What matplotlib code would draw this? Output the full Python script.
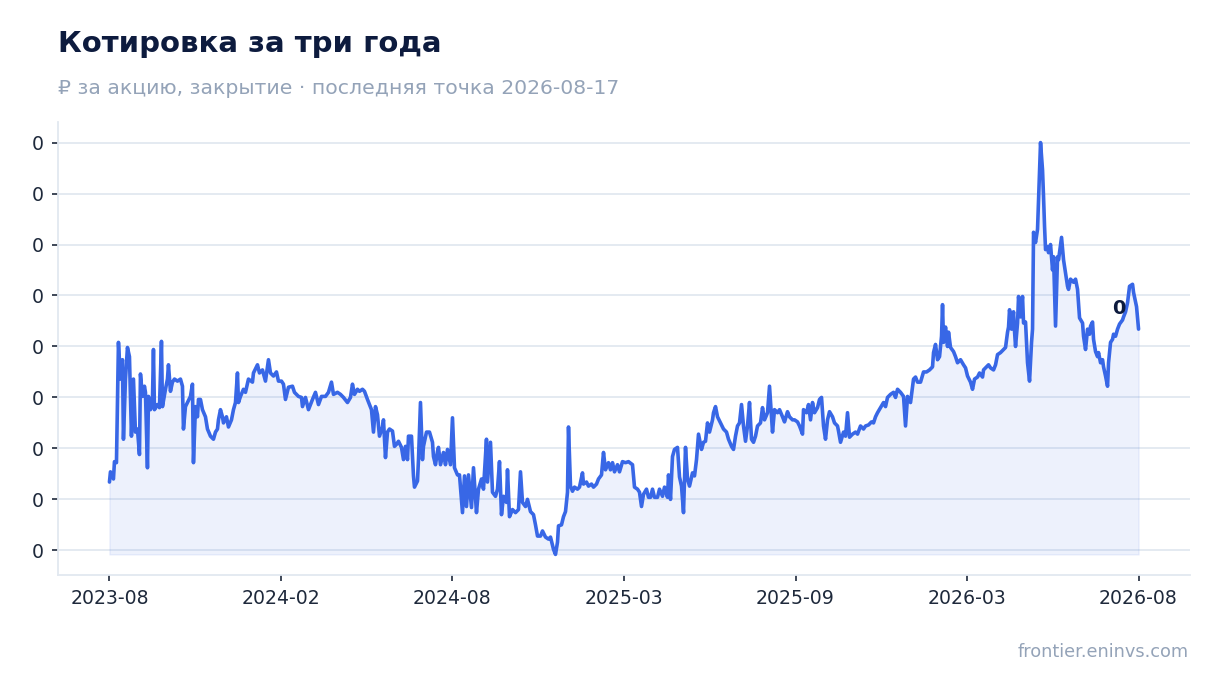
import matplotlib
matplotlib.use("Agg")
import matplotlib.pyplot as plt
import numpy as np
from matplotlib.ticker import FixedLocator, FuncFormatter

# ---- data (trading-session index, close price) ----
session = [0, 1, 4, 5, 7, 9, 11, 13, 14, 16, 18, 20, 22, 24, 26, 28, 30, 31, 33, 35, 36, 38, 39, 41, 43, 44, 45, 48, 50, 52,
           53, 56, 58, 59, 61, 63, 65, 68, 71, 73, 74, 76, 78, 81, 83, 84, 86, 88, 89, 91, 93, 96, 98, 101, 104, 106, 108, 109, 111, 113,
           114, 117, 119, 122, 124, 126, 128, 129, 131, 134, 136, 139, 143, 144, 148, 150, 153, 156, 159, 161, 164, 167, 169, 172, 174, 176, 179, 183, 185, 189,
           192, 193, 196, 199, 203, 206, 209, 212, 216, 219, 222, 224, 228, 231, 234, 238, 241, 243, 245, 248, 250, 253, 255, 258, 260, 262, 264, 266, 268, 270,
           273, 274, 276, 278, 280, 283, 285, 287, 289, 292, 294, 296, 298, 299, 302, 304, 305, 308, 309, 311, 313, 314, 317, 320, 323, 324, 326, 328, 329, 331,
           334, 336, 338, 341, 343, 345, 348, 350, 353, 355, 357, 359, 362, 364, 367, 369, 372, 374, 377, 378, 381, 383, 386, 388, 390, 392, 394, 397, 398, 400,
           403, 406, 409, 411, 413, 416, 418, 421, 424, 426, 428, 431, 433, 436, 439, 441, 444, 446, 448, 449, 452, 454, 456, 458, 459, 461, 463, 465, 468, 470,
           473, 474, 477, 479, 482, 484, 487, 489, 492, 494, 496, 499, 501, 503, 505, 508, 510, 513, 516, 519, 523, 525, 528, 530, 532, 534, 537, 539, 541, 543,
           545, 548, 550, 553, 555, 558, 559, 561, 563, 565, 568, 570, 572, 574, 576, 578, 580, 583, 585, 587, 589, 592, 594, 596, 598, 600, 603, 604, 606, 608,
           611, 614, 617, 619, 622, 624, 626, 628, 630, 632, 634, 636, 638, 640, 642, 644, 646, 648, 651, 653, 655, 658, 660, 663, 665, 668, 670, 673, 675, 678,
           680, 683, 685, 688, 690, 693, 694, 697, 699, 701, 703, 705, 708, 710, 712, 714, 716, 718, 720, 723, 725, 728, 729, 731, 734, 736, 738, 740, 743, 746,
           748, 751, 754, 756, 759, 762, 764, 766, 768, 771, 774, 776, 778, 781, 784, 786, 788, 791, 794, 796, 798, 801, 804, 806, 808, 811, 814, 817, 820, 823, 824, 826,
           828, 830, 832, 833, 834, 836, 838, 839, 841, 844, 846, 848, 851, 854, 856, 858, 861, 863, 865, 868, 870, 873, 874, 877, 879, 881, 884, 886, 888, 891,
           894, 896, 898, 899, 900, 902, 904, 905, 906, 908, 909, 911, 913, 914, 916, 918, 920, 922, 923, 924, 926, 928, 929, 931, 933, 934, 935, 936, 938, 939,
           941, 943, 944, 946, 948, 949, 952, 954, 956, 958, 959, 961, 964, 966, 968, 970, 973, 974, 976, 978, 980, 981, 983, 984, 986, 988, 989, 991, 993, 994,
           996, 998, 999, 1001, 1003, 1004, 1006, 1008, 1010, 1013, 1014, 1016, 1018, 1020, 1023, 1024, 1027, 1029]
close = [.067, .077, .070, .087, .086, .204, .168, .187, .109, .168, .199, .190, .112, .168, .116, .119, .094, .173, .151, .161, .155, .081, .151, .138, .148, .197, .138, .143, .140, .205,
         .141, .158, .168, .182, .156, .165, .168, .166, .168, .161, .119, .141, .145, .151, .163, .086, .141, .131, .148, .148, .138, .131, .119, .112, .109, .116, .119, .128, .138, .131,
         .125, .131, .121, .128, .138, .145, .174, .145, .151, .158, .155, .168, .165, .174, .182, .174, .177, .166, .187, .174, .171, .175, .166, .166, .163, .148, .160, .161, .155, .151,
         .150, .141, .150, .138, .148, .155, .143, .151, .151, .155, .165, .153, .155, .153, .150, .145, .150, .163, .153, .158, .156, .158, .156, .148, .143, .138, .116, .141, .133, .112,
         .121, .128, .091, .116, .119, .117, .102, .104, .107, .101, .089, .102, .089, .112, .112, .073, .062, .068, .089, .145, .089, .102, .116, .116, .106, .092, .084, .097, .101, .084,
         .096, .084, .099, .084, .130, .081, .074, .074, .037, .073, .043, .074, .042, .081, .037, .060, .070, .060, .109, .067, .106, .057, .053, .060, .087, .035, .053, .047, .079, .033,
         .040, .037, .040, .077, .047, .043, .050, .038, .035, .025, .014, .014, .019, .013, .011, .013, .001, -.004, .008, .024, .025, .033, .038, .057, .121, .063, .058, .062, .060, .062,
         .076, .065, .067, .063, .065, .062, .065, .070, .074, .096, .079, .086, .079, .086, .077, .084, .077, .087, .086, .087, .084, .062, .060, .057, .043, .055, .060, .052, .052, .060,
         .052, .052, .060, .053, .062, .052, .074, .050, .092, .099, .101, .072, .063, .037, .101, .070, .063, .076, .073, .089, .114, .099, .106, .107, .125, .116, .128, .135, .141, .131,
         .125, .119, .116, .109, .102, .099, .112, .122, .125, .143, .122, .107, .122, .145, .109, .106, .112, .122, .125, .140, .128, .135, .161, .116, .138, .135, .138, .131, .126, .136,
         .131, .128, .128, .126, .122, .114, .138, .135, .143, .128, .145, .135, .140, .148, .150, .122, .109, .128, .136, .131, .125, .122, .117, .106, .116, .112, .135, .111, .114, .116,
         .114, .122, .119, .122, .123, .126, .125, .131, .135, .140, .145, .141, .150, .153, .155, .150, .158, .155, .151, .122, .151, .145, .168, .170, .165, .165, .175, .175, .177, .180, .194, .202,
         .187, .190, .210, .241, .204, .219, .200, .214, .199, .195, .190, .184, .187, .182, .179, .171, .165, .158, .168, .170, .174, .170, .177, .180, .182, .179, .177, .182, .192, .194,
         .197, .199, .214, .219, .236, .217, .234, .215, .200, .223, .249, .229, .249, .223, .224, .184, .166, .204, .217, .312, .302, .315, .344, .400, .373, .347, .318, .295, .298, .292,
         .300, .275, .288, .220, .288, .285, .307, .285, .272, .259, .256, .266, .263, .266, .256, .228, .223, .210, .197, .217, .212, .220, .224, .207, .195, .190, .194, .184, .187, .180,
         .171, .161, .184, .204, .207, .212, .210, .217, .222, .226, .229, .234, .243, .259, .261, .253, .239, .217]

tick_labels = ["2023-08", "2024-02", "2024-08", "2025-03", "2025-09", "2026-03", "2026-08"]
y_ticks = [0.0, 0.05, 0.10, 0.15, 0.20, 0.25, 0.30, 0.35, 0.40]

title = "Котировка за три года"
subtitle = "₽ за акцию, закрытие · последняя точка 2026-08-17"
source = "frontier.eninvs.com"

# ---- style ----
LINE = "#3867e6"
NAVY = "#0d1b3e"
GREY = "#94a3b8"
GRID = "#e2e8f0"
TICK = "#1e293b"

plt.rcParams['font.family'] = ['DejaVu Sans']

x = np.array(session, dtype=float)
y = np.array(close, dtype=float)

fig = plt.figure(figsize=(12.2, 6.93), dpi=100)
ax = fig.add_axes([58 / 1220, 1 - 575 / 693, (1190 - 58) / 1220, (575 - 122) / 693])

ax.fill_between(x, y, y.min(), color=LINE, alpha=0.09, linewidth=1.0, zorder=1)
ax.plot(x, y, color=LINE, linewidth=2.6, solid_joinstyle="round", solid_capstyle="round", zorder=3)
ax.margins(x=0.05, y=0.05)

ax.yaxis.set_major_locator(FixedLocator(y_ticks))
ax.yaxis.set_major_formatter(FuncFormatter(lambda v, p: f"{v:.0f}"))
ax.set_xticks(np.linspace(x[0], x[-1], len(tick_labels)))
ax.set_xticklabels(tick_labels)

ax.grid(axis="y", color=GRID, linewidth=1.3, zorder=0)
ax.grid(axis="x", visible=False)
ax.set_axisbelow(True)
for side in ("top", "right"):
    ax.spines[side].set_visible(False)
for side in ("left", "bottom"):
    ax.spines[side].set_color(GRID)
    ax.spines[side].set_linewidth(1.3)
ax.tick_params(axis="both", colors=TICK, labelsize=13.6, length=4, width=1.2, pad=6)

# last value label
ax.annotate(f"{y[-1]:.0f}", xy=(x[-1], y[-1]), xytext=(-14.5, 15), textcoords="offset points",
            ha="center", va="center", fontsize=14, fontweight="bold", color=NAVY, zorder=5)

fig.text(58 / 1220, 1 - 44 / 693, title, fontsize=21, fontweight="bold", color=NAVY, ha="left", va="center")
fig.text(58 / 1220, 1 - 88 / 693, subtitle, fontsize=14.7, color=GREY, ha="left", va="center")
fig.text(1189 / 1220, 1 - 652 / 693, source, fontsize=12.8, color=GREY, ha="right", va="center")

fig.savefig("out.png", dpi=100)
